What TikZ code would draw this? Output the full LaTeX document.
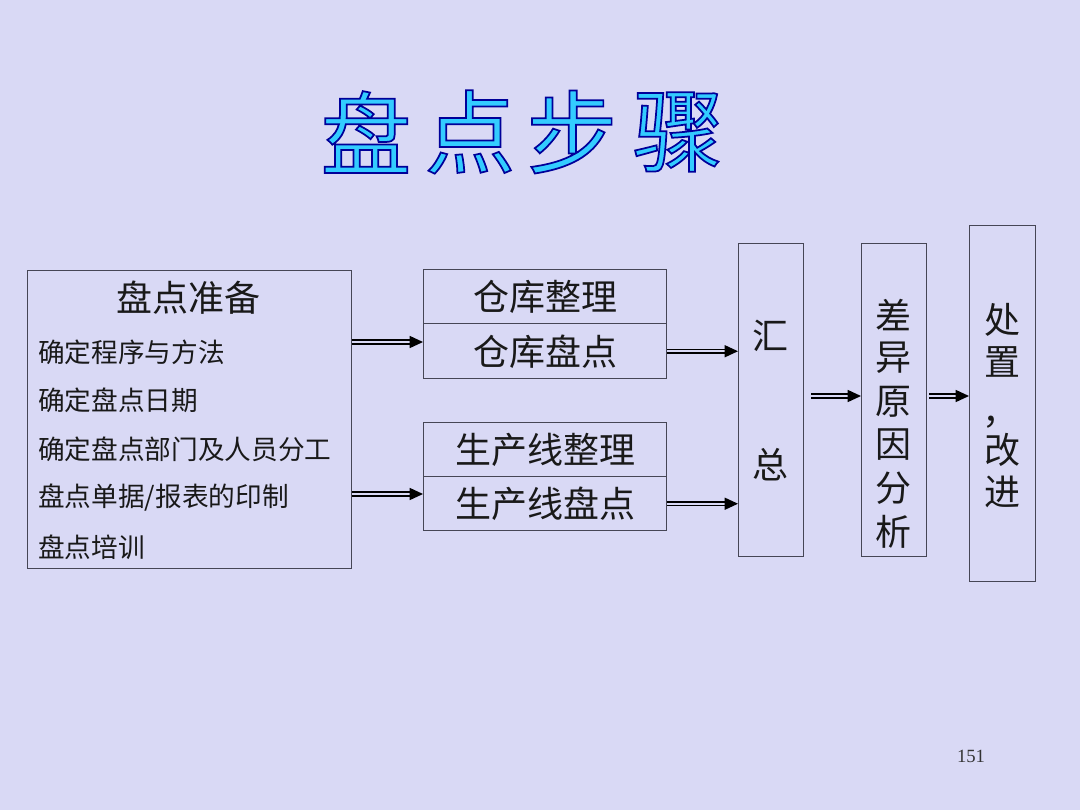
\documentclass[tikz,border=0pt]{standalone}
\usepackage{fontspec}
\setmainfont{Liberation Serif}
\newfontfamily\cjk{Noto Sans CJK SC}
\usetikzlibrary{arrows.meta}
\definecolor{bg}{RGB}{217,217,245}
\definecolor{titlefill}{RGB}{51,204,255}
\definecolor{boxline}{RGB}{70,70,85}
\newcommand\outlined[1]{\special{pdf:literal direct 2 Tr 1.3 w 0 0 0.6 RG}#1\special{pdf:literal direct 0 Tr 0 w}}
\begin{document}
\begin{tikzpicture}[x=0.75pt,y=-0.75pt,
  box/.style={draw=boxline, line width=1.1pt, anchor=north west, inner sep=0pt, fill=bg},
  txt/.style={font=\cjk\fontsize{20pt}{24pt}\selectfont, inner sep=0pt, text=black!90},
  big/.style={font=\cjk\fontsize{27pt}{32pt}\selectfont, inner sep=0pt, text=black!90},
  ttl/.style={font=\cjk\fontsize{68pt}{80pt}\selectfont, inner sep=0pt, text=titlefill},
  flow/.style={draw=black, double=bg, double distance=1.6pt, line width=1.1pt, -{Triangle[length=10pt,width=9pt]}}]
\fill[bg] (0,0) rectangle (1080,810);
\useasboundingbox (0,0) rectangle (1080,810);
% title
\node[ttl] (t1) at (366,132) {\outlined{盘}};
\node[ttl] (t2) at (470,132) {\outlined{点}};
\node[ttl] (t3) at (572,132) {\outlined{步}};
\node[ttl] (t4) at (678,132) {\outlined{骤}};
% left box
\node[box, minimum width=243pt, minimum height=223.5pt] (prep) at (27,270) {};
\node[big] (prept) at (188,298) {盘点准备};
\node[txt, anchor=west] (p1) at (38,352) {确定程序与方法};
\node[txt, anchor=west] (p2) at (38,400) {确定盘点日期};
\node[txt, anchor=west] (p3) at (38,449) {确定盘点部门及人员分工};
\node[txt, anchor=west] (p4) at (38,498) {盘点单据/报表的印制};
\node[txt, anchor=west] (p5) at (38,547) {盘点培训};
% middle boxes
\node[box, minimum width=182.25pt, minimum height=40.5pt] (wh1) at (423,269) {};
\node[big] at (wh1.center) {仓库整理};
\node[box, minimum width=182.25pt, minimum height=41.25pt] (wh2) at (423,323) {};
\node[big] at (wh2.center) {仓库盘点};
\node[box, minimum width=182.25pt, minimum height=40.5pt] (pl1) at (423,422) {};
\node[big] at (pl1.center) {生产线整理};
\node[box, minimum width=182.25pt, minimum height=40.5pt] (pl2) at (423,476) {};
\node[big] at (pl2.center) {生产线盘点};
% summary
\node[box, minimum width=48.75pt, minimum height=234.75pt] (sum) at (738,243) {};
\node[big] (s1) at (770.5,336) {汇};
\node[big] (s2) at (770.5,465) {总};
% difference analysis
\node[box, minimum width=48.75pt, minimum height=234.75pt] (diff) at (861,243) {};
\node[big] (d1) at (893.5,315) {差};
\node[big] (d2) at (893.5,358) {异};
\node[big] (d3) at (893.5,402) {原};
\node[big] (d4) at (893.5,445) {因};
\node[big] (d5) at (893.5,488) {分};
\node[big] (d6) at (893.5,532) {析};
% action
\node[box, minimum width=49.5pt, minimum height=267pt] (act) at (969,225) {};
\node[big] (a1) at (1002,320) {处};
\node[big] (a2) at (1002,362) {置};
\node[big, text height=6pt, text depth=2pt] (a3) at (1000,422) {，};
\node[big] (a4) at (1002,450) {改};
\node[big] (a5) at (1002,492) {进};
% arrows
\draw[flow] (prep.east |- 0,342) -- (wh2.west |- 0,342);
\draw[flow] (prep.east |- 0,494) -- (pl2.west |- 0,494);
\draw[flow] (wh2.east) -- (sum.west |- wh2.east);
\draw[flow] (pl2.east) -- (sum.west |- pl2.east);
\draw[flow, shorten <=5pt] (sum.east |- 0,396) -- (diff.west |- 0,396);
\draw[flow, shorten <=1.5pt] (diff.east |- 0,396) -- (act.west |- 0,396);
% page number
\node[inner sep=0pt, font=\fontsize{14pt}{16pt}\selectfont, text=black!80] (pg) at (971,756) {151};
\end{tikzpicture}
\end{document}
